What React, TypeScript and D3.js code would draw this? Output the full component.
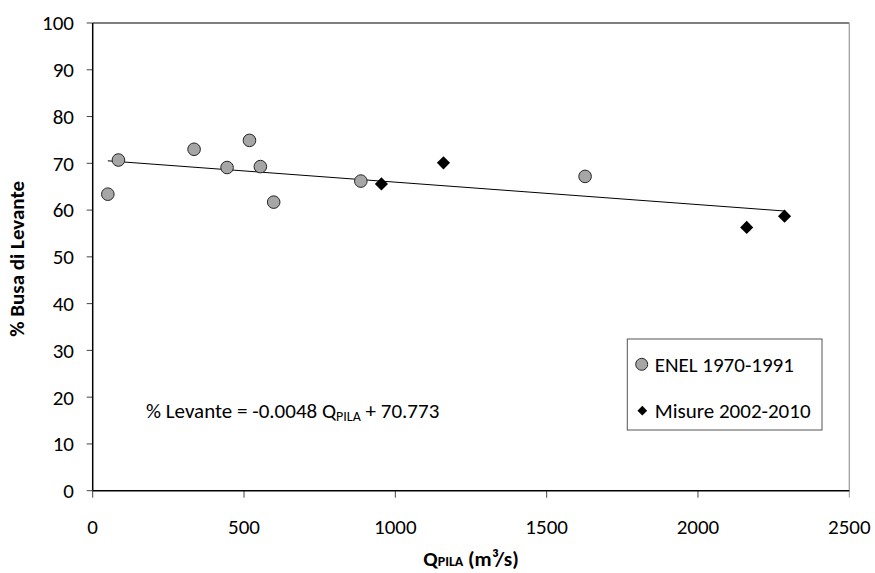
import React from "react";
import * as d3 from "d3";

// ENEL survey series (1970-1991)
const enelQ = [50, 85, 335, 444, 518, 554, 598, 886, 1627];
const enelPct = [63.4, 70.7, 73.0, 69.1, 74.9, 69.3, 61.7, 66.2, 67.2];

// Field measurements (2002-2010)
const misureQ = [954, 1159, 2161, 2286];
const misurePct = [65.6, 70.1, 56.3, 58.7];

// Linear fit: % Levante = slope * Q + intercept
const trendSlope = -0.0048;
const trendIntercept = 70.773;

const xTicks = [0, 500, 1000, 1500, 2000, 2500];
const yTicks = [0, 10, 20, 30, 40, 50, 60, 70, 80, 90, 100];

const legendLabels = ["ENEL 1970-1991", "Misure 2002-2010"];

const W = 875;
const H = 573;
const M = { left: 92.7, right: 849.3, top: 23, bottom: 490.7 };
const FONT = "Carlito, Lato, 'Liberation Sans', sans-serif";
const FS = 21;

export default function App() {
  const x = d3.scaleLinear().domain([0, 2500]).range([M.left, M.right]);
  const y = d3.scaleLinear().domain([0, 100]).range([M.bottom, M.top]);

  const qMin = d3.min([...enelQ, ...misureQ]) as number;
  const qMax = d3.max([...enelQ, ...misureQ]) as number;
  const trend = d3
    .line<number>()
    .x((q) => x(q))
    .y((q) => y(trendSlope * q + trendIntercept));

  const diamond = d3.symbol().type(d3.symbolDiamond2);
  const plotDiamond = diamond.size(110)() as string;
  const legendDiamond = diamond.size(60)() as string;

  return (
    <svg
      width={W}
      height={H}
      style={{ position: "absolute", left: 0, top: 0, background: "#fff" }}
      fontFamily={FONT}
    >
      {/* plot frame */}
      <line x1={M.left} x2={M.right} y1={M.top} y2={M.top} stroke="#000" strokeWidth={1} />
      <line x1={M.right} x2={M.right} y1={M.top} y2={M.bottom} stroke="#999" strokeWidth={1.2} />

      {/* y axis */}
      {yTicks.map((t) => (
        <g key={"y" + t}>
          <line x1={M.left - 6} x2={M.left} y1={y(t)} y2={y(t)} stroke="#444" strokeWidth={1} />
          <text x={74} y={y(t)} dy="0.35em" textAnchor="end" fontSize={FS} fill="#000">
            {t}
          </text>
        </g>
      ))}
      <line x1={M.left} x2={M.left} y1={M.top} y2={M.bottom} stroke="#000" strokeWidth={1.5} />

      {/* x axis */}
      {xTicks.map((t) => (
        <g key={"x" + t}>
          <line
            x1={x(t)}
            x2={x(t)}
            y1={M.bottom}
            y2={M.bottom + 7}
            stroke={t === 2500 ? "#999" : "#444"}
            strokeWidth={1}
          />
          <text x={x(t)} y={534} textAnchor="middle" fontSize={FS} fill="#000">
            {t}
          </text>
        </g>
      ))}
      <line x1={M.left} x2={M.right} y1={M.bottom} y2={M.bottom} stroke="#000" strokeWidth={1.5} />

      {/* axis titles */}
      <text
        transform={`translate(24,${(M.top + M.bottom) / 2 + 2}) rotate(-90)`}
        textAnchor="middle"
        fontSize={FS}
        fontWeight="bold"
        fill="#000"
      >
        % Busa di Levante
      </text>
      <text x={(M.left + M.right) / 2} y={566} textAnchor="middle" fontSize={FS} fontWeight="bold" fill="#000">
        Q<tspan fontSize={14}>PILA</tspan> (m³/s)
      </text>

      {/* regression line */}
      <path d={trend([qMin, qMax]) as string} fill="none" stroke="#000" strokeWidth={1} />

      {/* ENEL points */}
      {enelQ.map((q, i) => (
        <circle key={"e" + i} cx={x(q)} cy={y(enelPct[i])} r={6.3} fill="#a6a6a6" stroke="#262626" strokeWidth={1} />
      ))}

      {/* Misure points */}
      {misureQ.map((q, i) => (
        <path key={"m" + i} d={plotDiamond} transform={`translate(${x(q)},${y(misurePct[i])})`} fill="#000" />
      ))}

      {/* regression equation */}
      <text x={146} y={418} fontSize={FS} fill="#000">
        % Levante = -0.0048 Q<tspan fontSize={14} dy={3}>PILA</tspan>
        <tspan dy={-3}> + 70.773</tspan>
      </text>

      {/* legend */}
      <rect x={627.3} y={339} width={194.7} height={91} fill="#fff" stroke="#555" strokeWidth={1} />
      <circle cx={641.7} cy={364.3} r={6} fill="#a6a6a6" stroke="#262626" strokeWidth={1} />
      <text x={654.7} y={364.3} dy="0.35em" fontSize={FS} fill="#000">
        {legendLabels[0]}
      </text>
      <path d={legendDiamond} transform="translate(642.3,410.7)" fill="#000" />
      <text x={654.7} y={410.7} dy="0.35em" fontSize={FS} fill="#000">
        {legendLabels[1]}
      </text>
    </svg>
  );
}
